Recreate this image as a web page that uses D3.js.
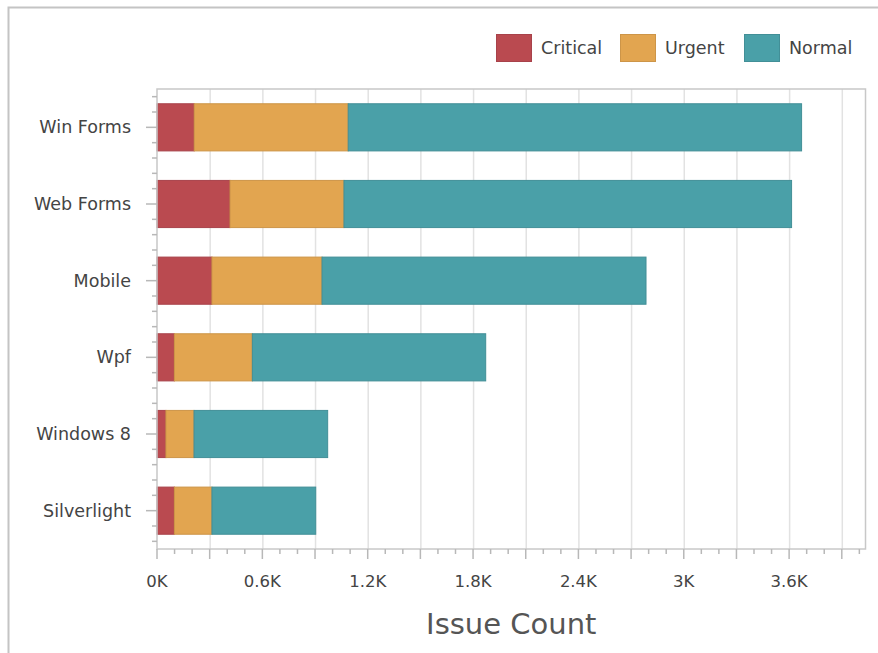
<!DOCTYPE html>
<html><head><meta charset="utf-8">
<script src="https://cdn.jsdelivr.net/npm/d3@7"></script>
<style>
html,body{margin:0;padding:0;background:#fff;}
svg{display:block;}
text{font-family:"DejaVu Sans",sans-serif;}
</style></head>
<body>
<svg id="c" width="878" height="653"></svg>
<script>
const categories = ["Win Forms","Web Forms","Mobile","Wpf","Windows 8","Silverlight"];
const seriesNames = ["Critical","Urgent","Normal"];
const critical = [212, 416, 313, 99, 51, 99];
const urgent   = [877, 649, 627, 444, 160, 214];
const normal   = [2582, 2549, 1845, 1329, 761, 591];
const xTickValues = [0, 600, 1200, 1800, 2400, 3000, 3600];
const xTickLabels = ["0K","0.6K","1.2K","1.8K","2.4K","3K","3.6K"];
const axisTitle = "Issue Count";

const colors = ["#BA4A50","#E2A550","#4AA0A8"];
const strokes = ["#A8424A","#CD9548","#428F97"];

const svg = d3.select("#c");
// outer frame
svg.append("path").attr("d","M8.5,660 L8.5,7.5 L880,7.5").attr("fill","none")
  .attr("stroke","#c4c4c4").attr("stroke-width",2);

const L = 157, R = 865.5, T = 89, B = 549;
const x = d3.scaleLinear().domain([0, 4035]).range([L, R]);
const y = d3.scaleBand().domain(categories).range([T, B]).paddingInner(0.385).paddingOuter(0.1925);
const step = y.step();

const data = categories.map((c,i)=>({cat:c, Critical:critical[i], Urgent:urgent[i], Normal:normal[i]}));
const stack = d3.stack().keys(seriesNames)(data);

// gridlines
const grid = d3.range(300, 4035, 300);
svg.append("g").selectAll("line").data(grid).join("line")
  .attr("x1", d=>x(d)+0.5).attr("x2", d=>x(d)+0.5).attr("y1", T).attr("y2", B)
  .attr("stroke","#e2e2e2").attr("stroke-width",1.5);

// bars
svg.append("g").selectAll("g").data(stack).join("g")
  .attr("fill",(d,i)=>colors[i]).attr("stroke",(d,i)=>strokes[i])
  .selectAll("rect").data(d=>d).join("rect")
  .attr("x", d=>x(d[0])).attr("width", d=>x(d[1])-x(d[0]))
  .attr("y", d=>y(d.data.cat)).attr("height", y.bandwidth())
  .attr("stroke-width",1);

// plot border
svg.append("rect").attr("x",L).attr("y",T).attr("width",R-L).attr("height",B-T)
  .attr("fill","none").attr("stroke","#c8c8c8").attr("stroke-width",1.5);

// x axis ticks
const minorX = d3.range(0, 4035, 100).filter(v=>v%300!==0);
const majorX = d3.range(0, 4035, 300);
const gx = svg.append("g").attr("stroke","#b8b8b8").attr("stroke-width",1.5);
gx.selectAll(".mj").data(majorX).join("line").attr("class","mj")
  .attr("x1",d=>x(d)).attr("x2",d=>x(d)).attr("y1",B).attr("y2",B+10);
gx.selectAll(".mn").data(minorX).join("line").attr("class","mn")
  .attr("x1",d=>x(d)).attr("x2",d=>x(d)).attr("y1",B).attr("y2",B+5);
svg.append("g").selectAll("text").data(xTickValues).join("text")
  .attr("x",d=>x(d)).attr("y",587).attr("text-anchor","middle")
  .attr("font-size",16.5).attr("fill","#444")
  .text((d,i)=>xTickLabels[i]);

// y axis ticks
const gy = svg.append("g").attr("stroke","#b8b8b8").attr("stroke-width",1.5);
const yMinor = [];
categories.forEach(c=>{
  const cy = y(c)+y.bandwidth()/2;
  [-2,-1,1,2].forEach(k=>yMinor.push(cy+k*step/5));
});
gy.selectAll(".mj").data(categories).join("line").attr("class","mj")
  .attr("x1",L-11).attr("x2",L).attr("y1",d=>y(d)+y.bandwidth()/2).attr("y2",d=>y(d)+y.bandwidth()/2);
gy.selectAll(".mn").data(yMinor).join("line").attr("class","mn")
  .attr("x1",L-5).attr("x2",L).attr("y1",d=>d).attr("y2",d=>d);
svg.append("g").selectAll("text").data(categories).join("text")
  .attr("x",131).attr("y",d=>y(d)+y.bandwidth()/2).attr("dy","0.35em")
  .attr("text-anchor","end").attr("font-size",17.5).attr("fill","#444")
  .text(d=>d);

// axis title
svg.append("text").attr("x",(L+R)/2).attr("y",634).attr("text-anchor","middle")
  .attr("font-size",29).attr("fill","#555").text(axisTitle);

// legend
const legX = [496, 620, 744];
const lg = svg.append("g");
seriesNames.forEach((s,i)=>{
  lg.append("rect").attr("x",legX[i]+0.5).attr("y",34.5).attr("width",35).attr("height",27)
    .attr("fill",colors[i]).attr("stroke",strokes[i]);
  lg.append("text").attr("x",legX[i]+45).attr("y",48).attr("dy","0.35em")
    .attr("font-size",17.5).attr("fill","#444").text(s);
});
</script>
</body></html>
